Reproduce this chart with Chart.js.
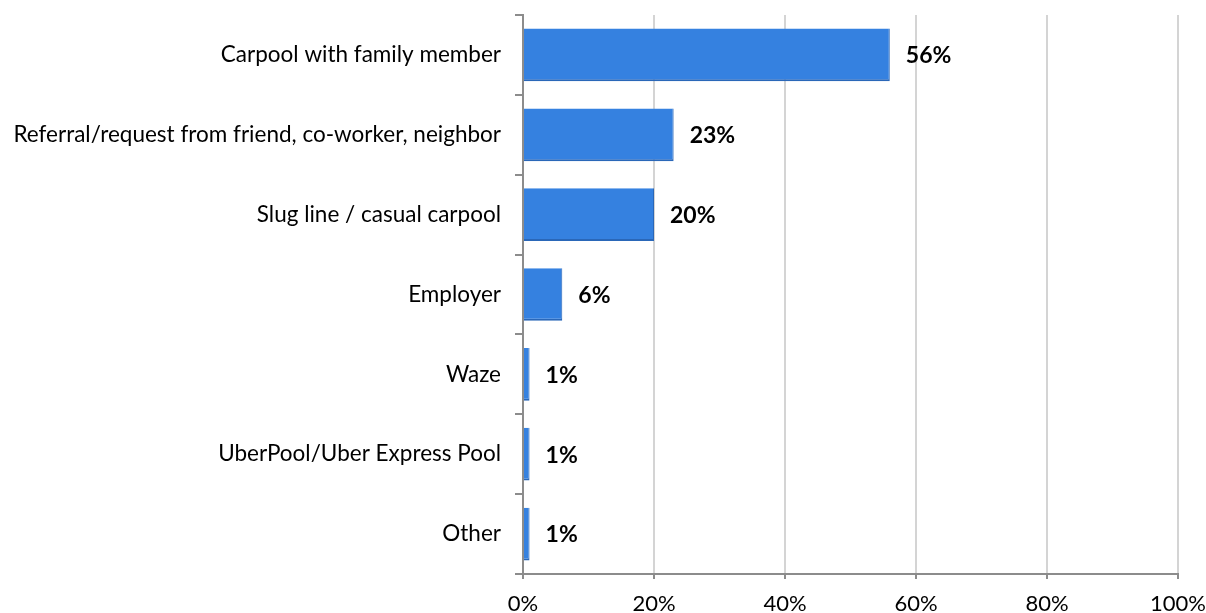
<!DOCTYPE html>
<html>
<head>
<meta charset="utf-8">
<script src="https://cdn.jsdelivr.net/npm/chart.js@4"></script>
<style>
  html, body { margin: 0; padding: 0; background: #fff; }
  #wrap { width: 1206px; height: 613px; }
</style>
</head>
<body>
<div id="wrap"><canvas id="chart" width="1206" height="613"></canvas></div>
<script>
const categories = [
    'Carpool with family member',
    'Referral/request from friend, co-worker, neighbor',
    'Slug line / casual carpool',
    'Employer',
    'Waze',
    'UberPool/Uber Express Pool',
    'Other'
];
const shares = [56, 23, 20, 6, 1, 1, 1];
const xTicks = [0, 20, 40, 60, 80, 100];

const fontFamily = 'Lato, "Open Sans", sans-serif';

// draws the bold % next to each bar
const valueLabels = {
    id: 'valueLabels',
    afterDatasetsDraw(chart) {
        const ctx = chart.ctx;
        const meta = chart.getDatasetMeta(0);
        ctx.save();
        ctx.font = 'bold 23px ' + fontFamily;
        ctx.fillStyle = '#000';
        ctx.textAlign = 'left';
        ctx.textBaseline = 'middle';
        meta.data.forEach((bar, i) => {
            ctx.fillText(shares[i] + '%', bar.x + 16, bar.y + 1);
        });
        ctx.restore();
    }
};

new Chart(document.getElementById('chart'), {
    type: 'bar',
    data: {
        labels: categories,
        datasets: [{
            data: shares,
            backgroundColor: '#3581e0',
            borderColor: '#2a67b8',
            borderWidth: { bottom: 2, right: 1, top: 0, left: 0 },
            borderSkipped: false,
            barPercentage: 0.66,
            categoryPercentage: 1
        }]
    },
    options: {
        indexAxis: 'y',
        responsive: false,
        animation: false,
        layout: { padding: { top: 15, right: 28, left: 0, bottom: 0 } },
        plugins: {
            legend: { display: false },
            tooltip: { enabled: false }
        },
        scales: {
            x: {
                min: 0,
                max: 100,
                afterBuildTicks: (scale) => { scale.ticks = xTicks.map(v => ({ value: v })); },
                afterFit: (scale) => {
                    scale.height = 39;
                    scale.paddingLeft = 0;
                    scale.paddingRight = 0;
                },
                grid: {
                    color: '#d4d4d4',
                    lineWidth: 2,
                    tickLength: 5,
                    tickColor: '#8c8c8c'
                },
                border: { color: '#8c8c8c', width: 2 },
                ticks: {
                    color: '#000',
                    padding: 12,
                    font: { family: fontFamily, size: 22 },
                    callback: (v) => v + '%'
                }
            },
            y: {
                afterFit: (scale) => {
                    scale.width = 523;
                    scale.paddingTop = 0;
                    scale.paddingBottom = 0;
                },
                grid: {
                    offset: true,
                    drawOnChartArea: false,
                    tickLength: 8,
                    tickColor: '#8c8c8c',
                    lineWidth: 2
                },
                border: { color: '#8c8c8c', width: 2 },
                ticks: {
                    color: '#000',
                    padding: 14,
                    font: { family: fontFamily, size: 22.5 }
                }
            }
        }
    },
    plugins: [valueLabels]
});
</script>
</body>
</html>
